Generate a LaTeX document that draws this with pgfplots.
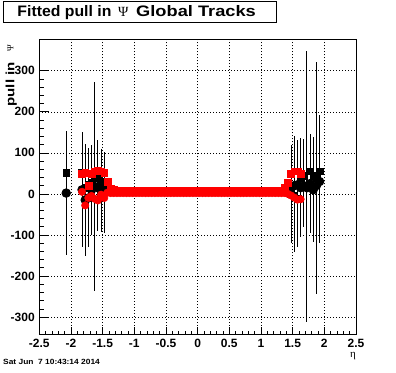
\documentclass[border=0pt]{standalone}
\usepackage{fontspec}
\setmainfont{Liberation Sans}
\newfontfamily\sgreek{Liberation Serif}
\usepackage{pgfplots}
\pgfplotsset{compat=1.18}
\begin{document}
\begin{tikzpicture}
\begin{axis}[
  at={(0pt,0pt)}, anchor=south west, scale only axis,
  width=316.7pt, height=294.8pt,
  xmin=-2.5, xmax=2.5, ymin=-342, ymax=376,
  xtick={-2.5,-2,-1.5,-1,-0.5,0,0.5,1,1.5,2,2.5},
  xticklabels={-2.5,-2,-1.5,-1,-0.5,0,0.5,1,1.5,2,2.5},
  ytick={-300,-200,-100,0,100,200,300},
  yticklabels={-300,-200,-100,0,100,200,300},
  minor x tick num=4, minor y tick num=4,
  tick align=inside, xtick pos=left, ytick pos=left,
  xtick style={black, line width=0.6pt, /pgfplots/major tick length=7pt, /pgfplots/minor tick length=3.5pt},
  ytick style={black, line width=0.6pt, /pgfplots/major tick length=10pt, /pgfplots/minor tick length=5pt},
  grid=major, major grid style={black, line width=0.5pt, dash pattern=on 0.8pt off 2.2pt},
  axis line style={black, line width=0.9pt},
  ticklabel style={font=\bfseries\fontsize{12}{12}\selectfont},
  xticklabel style={yshift=-1pt},
  yticklabel style={xshift=-1pt},
  clip=true,
]
% black circles
\addplot[only marks, mark=*, mark size=4.3pt, black, line width=0.8pt,
  error bars/.cd, y dir=both, y explicit, error mark=none,
  error bar style={black, line width=0.9pt}]
  coordinates {
  (-2.075,2) +- (0,152)
  (-1.825,10) +- (0,140)
  (-1.775,-15) +- (0,137)
  (-1.725,-10) +- (0,119)
  (-1.675,10) +- (0,110)
  (-1.625,18) +- (0,254)
  (-1.575,15) +- (0,105)
  (-1.525,8) +- (0,102)
  (-1.475,3) +- (0,98)
  (1.475,15) +- (0,104)
  (1.525,20) +- (0,120)
  (1.575,22) +- (0,110)
  (1.625,15) +- (0,120)
  (1.675,20) +- (0,100)
  (1.725,15) +- (0,120)
  (1.775,25) +- (0,120)
  (1.825,10) +- (0,126)
  (1.875,20) +- (0,150)
  (1.925,30) +- (0,150)
  };
% black squares
\addplot[only marks, mark=square*, mark size=3.4pt, black,
  error bars/.cd, y dir=both, y explicit, error mark=none,
  error bar style={black, line width=0.9pt}]
  coordinates {
  (-2.075,51) +- (0,100)
  (-1.825,52) +- (0,95)
  (-1.775,15) +- (0,90)
  (-1.725,22) +- (0,90)
  (-1.675,28) +- (0,90)
  (-1.625,38) +- (0,100)
  (-1.575,42) +- (0,90)
  (-1.525,30) +- (0,80)
  (-1.475,12) +- (0,80)
  (1.475,-1) +- (0,119)
  (1.525,-4) +- (0,137)
  (1.575,-11) +- (0,118)
  (1.625,40) +- (0,97)
  (1.675,45) +- (0,89)
  (1.725,18) +- (0,330)
  (1.775,55) +- (0,92)
  (1.825,45) +- (0,94)
  (1.875,38) +- (0,282)
  (1.925,55) +- (0,136)
  };
% red squares
\addplot[only marks, mark=square*, mark size=3.4pt, red]
  coordinates {
  (-1.825,50) (-1.775,52) (-1.725,20) (-1.675,50) (-1.625,55) (-1.575,56)
  (-1.525,55) (-1.475,52) (-1.425,29) (-1.375,14) (-1.325,10)
  (-1.275,8) (-1.225,8) (-1.175,8) (-1.125,8) (-1.075,8) (-1.025,8)
  (-0.975,8) (-0.925,8) (-0.875,8) (-0.825,8) (-0.775,8) (-0.725,8)
  (-0.675,8) (-0.625,8) (-0.575,8) (-0.525,8) (-0.475,8) (-0.425,8)
  (-0.375,8) (-0.325,8) (-0.275,8) (-0.225,8) (-0.175,8) (-0.125,8)
  (-0.075,8) (-0.025,8) (0.025,8) (0.075,8) (0.125,8) (0.175,8)
  (0.225,8) (0.275,8) (0.325,8) (0.375,8) (0.425,8) (0.475,8)
  (0.525,8) (0.575,8) (0.625,8) (0.675,8) (0.725,8) (0.775,8)
  (0.825,8) (0.875,8) (0.925,8) (0.975,8) (1.025,8) (1.075,8)
  (1.125,8) (1.175,8) (1.225,8) (1.275,8)
  (1.325,9) (1.375,15) (1.425,28) (1.475,50) (1.525,55) (1.575,55) (1.625,50)
  };
% red circles
\addplot[only marks, mark=*, mark size=3.8pt, red]
  coordinates {
  (-1.825,5) (-1.775,-28) (-1.725,-10) (-1.675,-5) (-1.625,-12) (-1.575,-16)
  (-1.525,-2) (-1.475,-10) (-1.425,3) (-1.375,2) (-1.325,2)
  (-1.275,2) (-1.225,2) (-1.175,2) (-1.125,2) (-1.075,2) (-1.025,2)
  (-0.975,2) (-0.925,2) (-0.875,2) (-0.825,2) (-0.775,2) (-0.725,2)
  (-0.675,2) (-0.625,2) (-0.575,2) (-0.525,2) (-0.475,2) (-0.425,2)
  (-0.375,2) (-0.325,2) (-0.275,2) (-0.225,2) (-0.175,2) (-0.125,2)
  (-0.075,2) (-0.025,2) (0.025,2) (0.075,2) (0.125,2) (0.175,2)
  (0.225,2) (0.275,2) (0.325,2) (0.375,2) (0.425,2) (0.475,2)
  (0.525,2) (0.575,2) (0.625,2) (0.675,2) (0.725,2) (0.775,2)
  (0.825,2) (0.875,2) (0.925,2) (0.975,2) (1.025,2) (1.075,2)
  (1.125,2) (1.175,2) (1.225,2) (1.275,2)
  (1.325,2) (1.375,2) (1.425,0) (1.475,-4) (1.525,-9) (1.575,-14) (1.625,-13)
  };
\end{axis}
\begin{scope}[x=1pt,y=1pt,shift={(-39.3pt,-37.7pt)}]
% title box
\draw[black, line width=0.9pt, fill=white] (3.3,350) rectangle (276,371);
\node[anchor=base west, inner sep=0pt, font=\bfseries\fontsize{15.2}{15}\selectfont]
  at (17.3,355) {\scalebox{1.04}[1]{Fitted pull in}};
\node[anchor=base west, inner sep=0pt, font=\fontsize{14}{14}\selectfont]
  at (118,355.5) {\sgreek Ψ};
\node[anchor=base west, inner sep=0pt, font=\bfseries\fontsize{15.2}{15}\selectfont]
  at (136,355) {\scalebox{1.2}[1]{Global Tracks}};
% y label
\node[rotate=90, anchor=base east, inner sep=0pt, font=\bfseries\fontsize{12}{12}\selectfont]
  at (14.5,310) {\scalebox{1.25}[1]{pull in}};
\node[rotate=90, anchor=base east, inner sep=0pt, font=\fontsize{9}{9}\selectfont]
  at (13.5,327) {\sgreek Ψ};
% x label
\node[inner sep=0pt, font=\fontsize{11}{11}\selectfont] at (353,15.5) {\sgreek η};
% date
\node[anchor=base west, inner sep=0pt, font=\bfseries\fontsize{7.5}{7.5}\selectfont]
  at (3,7.5) {\scalebox{1.12}[1]{Sat Jun\ \ 7 10:43:14 2014}};
\pgfresetboundingbox
\useasboundingbox (0,0) rectangle (396,372);
\end{scope}
\end{tikzpicture}
\end{document}
